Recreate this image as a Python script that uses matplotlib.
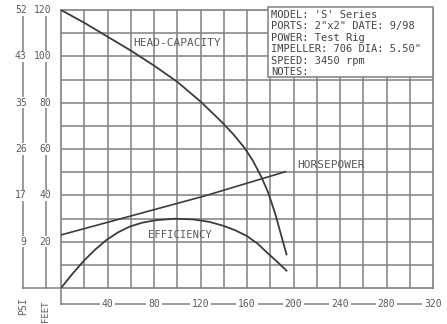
import matplotlib
matplotlib.use("Agg")
import matplotlib.pyplot as plt
from matplotlib.patches import Rectangle

# pump curve values (flow in gpm, head in feet)
head_gpm = [0, 20, 40, 60, 80, 100, 120, 138, 148, 158, 165, 172, 178, 184,
            189, 194]
head_ft = [120, 114.5, 108.5, 102.5, 96, 89, 80.5, 71.8, 66.5, 60.4, 55,
           48.3, 41.5, 32.5, 23.5, 14.5]

hp_gpm = [0, 124, 193]
hp_ft = [22.9, 39.8, 50.2]

eff_gpm = [0, 10, 19, 29, 39, 49, 59, 70, 82, 98, 114, 128, 140, 150, 160,
           169, 177, 186, 194]
eff_ft = [0, 6.2, 11.4, 16.4, 20.7, 24, 26.5, 28.2, 29.3, 29.9, 29.6, 28.5,
          26.8, 24.9, 22.4, 19.2, 15.4, 11.3, 7.5]

feet_ticks = [20, 40, 60, 80, 100, 120]
psi_ticks = [9, 17, 26, 35, 43, 52]
gpm_ticks = [40, 80, 120, 160, 200, 240, 280, 320]

info_lines = ["MODEL: 'S' Series",
              'PORTS: 2"x2" DATE: 9/98',
              "POWER: Test Rig",
              'IMPELLER: 706 DIA: 5.50"',
              "SPEED: 3450 rpm",
              "NOTES:"]

grid_col = "#808080"
line_col = "#3c3c3c"
text_col = "#5a5a5a"
mono = "DejaVu Sans Mono"

fig = plt.figure(figsize=(4.47, 3.24), dpi=100)
ax = fig.add_axes([61 / 447, 36 / 324, 372 / 447, 278 / 324])
ax.set_xlim(0, 320)
ax.set_ylim(0, 120)
ax.set_xticks([])
ax.set_yticks([])
for s in ax.spines.values():
  s.set_color(grid_col)
  s.set_linewidth(1.2)

for x in range(20, 320, 20):
  ax.axvline(x, color=grid_col, lw=1.1, zorder=1)
for y in range(10, 120, 10):
  ax.axhline(y, color=grid_col, lw=1.1, zorder=1)

ax.plot(head_gpm, head_ft, color=line_col, lw=1.3, zorder=3)
ax.plot(hp_gpm, hp_ft, color=line_col, lw=1.2, zorder=3)
ax.plot(eff_gpm, eff_ft, color=line_col, lw=1.3, zorder=3)

ax.text(62, 105.7, "HEAD-CAPACITY", fontsize=8, family=mono, color=text_col,
        va="center", zorder=4)
ax.text(203, 53, "HORSEPOWER", fontsize=8, family=mono, color=text_col,
        va="center", zorder=4)
ax.text(75, 23, "EFFICIENCY", fontsize=7.6, family=mono, color=text_col,
        va="center", zorder=4)

# info block in the top right corner
ax.add_patch(Rectangle((178, 91), 142, 30.5, facecolor="white",
                       edgecolor=grid_col, lw=1.1, zorder=5, clip_on=False))
for i, line in enumerate(info_lines):
  ax.text(181, 117.8 - i * 4.92, line, fontsize=7.5, family=mono,
          color="#444444", va="center", zorder=6, clip_on=False)

# left scales: PSI and FEET
psi_x, feet_x = -33, -13.2
ax.plot([psi_x, psi_x], [0, 120], color=grid_col, lw=1.1, clip_on=False)
ax.plot([feet_x, feet_x], [0, 120], color=grid_col, lw=1.1, clip_on=False)
ax.plot([psi_x, 0], [0, 0], color=grid_col, lw=1.1, clip_on=False)
for ft, psi in zip(feet_ticks, psi_ticks):
  ax.text(-29.5, ft, str(psi), fontsize=7, family=mono, color=text_col,
          ha="right", va="center", clip_on=False,
          bbox=dict(facecolor="white", edgecolor="none", pad=0.5))
  ax.text(-8.2, ft, str(ft), fontsize=7, family=mono, color=text_col,
          ha="right", va="center", clip_on=False,
          bbox=dict(facecolor="white", edgecolor="none", pad=0.5))
ax.text(psi_x, -7.8, "PSI", fontsize=7, family=mono, color=text_col,
        rotation=90, ha="center", va="center", clip_on=False)
ax.text(feet_x - 0.5, -9.9, "FEET", fontsize=6.5, family=mono,
        color=text_col, rotation=90, ha="center", va="center",
        clip_on=False)

# bottom gpm scale
base_y = -6.9
ax.plot([0, 0], [0, base_y], color=grid_col, lw=1.1, clip_on=False)
ax.plot([0, 312], [base_y, base_y], color=grid_col, lw=1.1, clip_on=False)
for g in gpm_ticks:
  ax.text(g, base_y, str(g), fontsize=7, family=mono, color=text_col,
          ha="center", va="center", clip_on=False,
          bbox=dict(facecolor="white", edgecolor="none", pad=1.5))

fig.savefig("out.png", dpi=100, facecolor="white")
